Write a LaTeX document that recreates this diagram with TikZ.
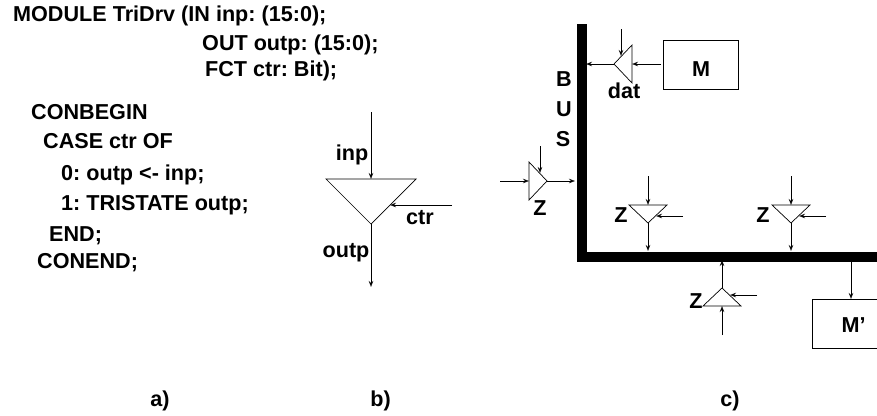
\documentclass[tikz,border=0pt]{standalone}
\usepackage{fontspec}
\setmainfont{Liberation Sans}
\usetikzlibrary{arrows.meta}
\frenchspacing
\tikzset{
  lbl/.style={font=\fontsize{21.6}{24}\selectfont\bfseries,inner sep=0pt,anchor=base},
  codeline/.style={lbl,anchor=base west},
  wire/.style={-{Stealth[open,length=6pt,width=4.5pt]},line width=0.7pt},
  outline/.style={line width=0.7pt},
  busline/.style={fill=black}
}
\begin{document}
\begin{tikzpicture}[x=1pt,y=-1pt]
  \useasboundingbox (0,0) rectangle (877,415);
  % a) source text
  \node[codeline] (mod) at (13,21) {MODULE TriDrv (IN inp: (15:0);};
  \node[codeline] (out) at (202,50) {OUT outp: (15:0);};
  \node[codeline] (fct) at (205,76) {FCT ctr: Bit);};
  \node[codeline] (cb) at (31,119) {CONBEGIN};
  \node[codeline] (cas) at (43,148) {CASE ctr OF};
  \node[codeline] (zero) at (61,180) {0: outp <- inp;};
  \node[codeline] (one) at (61,210) {1: TRISTATE outp;};
  \node[codeline] (en) at (49,241) {END;};
  \node[codeline] (ce) at (37,268) {CONEND;};
  % b) the large driver
  \coordinate (tl) at (326,179);
  \coordinate (tr) at (416,179);
  \coordinate (tp) at (371,224);
  \coordinate (tt) at (371,179);
  \coordinate (ti) at (371,112);
  \coordinate (to) at (371,287);
  \coordinate (tc) at (452,205);
  \coordinate (ts) at (390,205);
  \draw[outline] (tl) -- (tr) -- (tp) -- cycle;
  \draw[wire] (ti) -- (tt);
  \draw[wire] (tp) -- (to);
  \draw[wire] (tc) -- (ts);
  \node[lbl] (inp) at (352,160) {inp};
  \node[lbl] (ctr) at (420,224) {ctr};
  \node[lbl] (outp) at (346,257) {outp};
  % c) bus with small drivers
  \fill[busline] (577,24) rectangle (587,262);
  \fill[busline] (577,252) rectangle (877,262);
  \foreach \n/\x/\y/\xv/\yv in {dat/632/64/{0pt,1pt}/{-1pt,0pt},
      za/529/181/{0pt,1pt}/{1pt,0pt},
      zb/648/205/{1pt,0pt}/{0pt,-1pt},
      zc/791/205/{1pt,0pt}/{0pt,-1pt},
      zd/722/306/{1pt,0pt}/{0pt,1pt}} {
    \begin{scope}[shift={(\x,\y)},x={(\xv)},y={(\yv)}]
      \coordinate (\n l) at (-19,0);
      \coordinate (\n r) at (19,0);
      \coordinate (\n p) at (0,18);
      \coordinate (\n b) at (0,0);
      \coordinate (\n i) at (0,-29);
      \coordinate (\n o) at (0,46);
      \coordinate (\n c) at (35,11);
      \coordinate (\n s) at (8,11);
      \draw[outline] (\n l) -- (\n r) -- (\n p) -- cycle;
      \draw[wire] (\n i) -- (\n b);
      \draw[wire] (\n p) -- (\n o);
      \draw[wire] (\n c) -- (\n s);
    \end{scope}
  }
  \node[lbl] (datl) at (624,98) {dat};
  \node[lbl] (zal) at (540,215) {Z};
  \node[lbl] (zbl) at (621,222) {Z};
  \node[lbl] (zcl) at (763,222) {Z};
  \node[lbl] (zdl) at (696,308) {Z};
  \node[lbl] (b) at (564,86) {B};
  \node[lbl] (u) at (564,116) {U};
  \node[lbl] (s) at (563,146) {S};
  \draw[outline] (663,40) rectangle (738,89);
  \node[lbl] (m) at (701,76) {M};
  \draw[outline] (877,299) -- (812,299) -- (812,348) -- (877,348);
  \node[lbl] (mp) at (853.5,332) {M'};
  \coordinate (mt) at (851,262);
  \coordinate (mb) at (851,299);
  \draw[wire] (mt) -- (mb);
  % captions
  \node[lbl] (capa) at (160,406) {a)};
  \node[lbl] (capb) at (380.5,406) {b)};
  \node[lbl] (capc) at (730,406) {c)};
\end{tikzpicture}
\end{document}
